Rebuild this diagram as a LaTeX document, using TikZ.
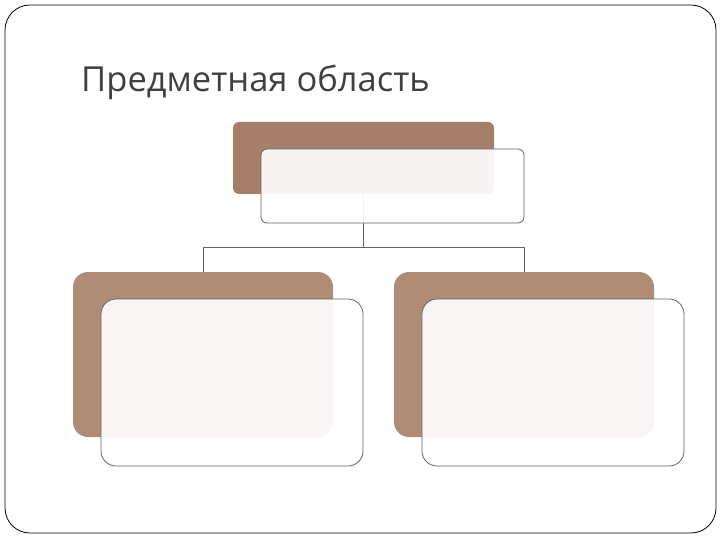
\documentclass[tikz,border=0pt]{standalone}
\usepackage{fontspec}
\setmainfont{Open Sans}
\usetikzlibrary{positioning}
\definecolor{topbrown}{RGB}{165,127,105}
\definecolor{subbrown}{RGB}{176,140,118}
\definecolor{edgegray}{RGB}{100,100,100}
\definecolor{titlegray}{RGB}{64,64,64}

\begin{document}
\begin{tikzpicture}[x=1pt,y=-1pt,
backbox/.style={rectangle, fill=#1, inner sep=0pt, outer sep=0pt},
frontbox/.style={rectangle, draw=edgegray, fill=white, fill opacity=0.92, line width=0.8pt, inner sep=0pt, outer sep=0pt},
]
\useasboundingbox (0,0) rectangle (720,540);
\draw[black, line width=0.8pt, rounded corners=25pt] (5,5) rectangle (716,533);

%Title
\node[anchor=base west, text=titlegray, font=\fontsize{34.5}{40}\selectfont, inner sep=0pt] (title) at (81,92) {Предметная область};

%Nodes
\node[backbox=topbrown, rounded corners=6pt, minimum width=261pt, minimum height=72pt, anchor=north west] (topback) at (233,122) {};
\node[backbox=subbrown, rounded corners=15pt, minimum width=260pt, minimum height=165pt, anchor=north west] (leftback) at (73,272) {};
\node[backbox=subbrown, rounded corners=15pt, minimum width=260pt, minimum height=165pt, anchor=north west] (rightback) at (394,272) {};

%Lines
\draw[edgegray, line width=0.6pt] (topback.south) -- ++(0,53) coordinate (bus) -| (leftback.north);
\draw[edgegray, line width=0.6pt] (bus) -| (rightback.north);

\node[frontbox, rounded corners=6pt, minimum width=263pt, minimum height=74pt, anchor=north west] (topfront) at (261,149) {};
\node[frontbox, rounded corners=15pt, minimum width=262pt, minimum height=167pt, anchor=north west] (leftfront) at (101,299) {};
\node[frontbox, rounded corners=15pt, minimum width=262pt, minimum height=167pt, anchor=north west] (rightfront) at (422,299) {};

\end{tikzpicture}
\end{document}
